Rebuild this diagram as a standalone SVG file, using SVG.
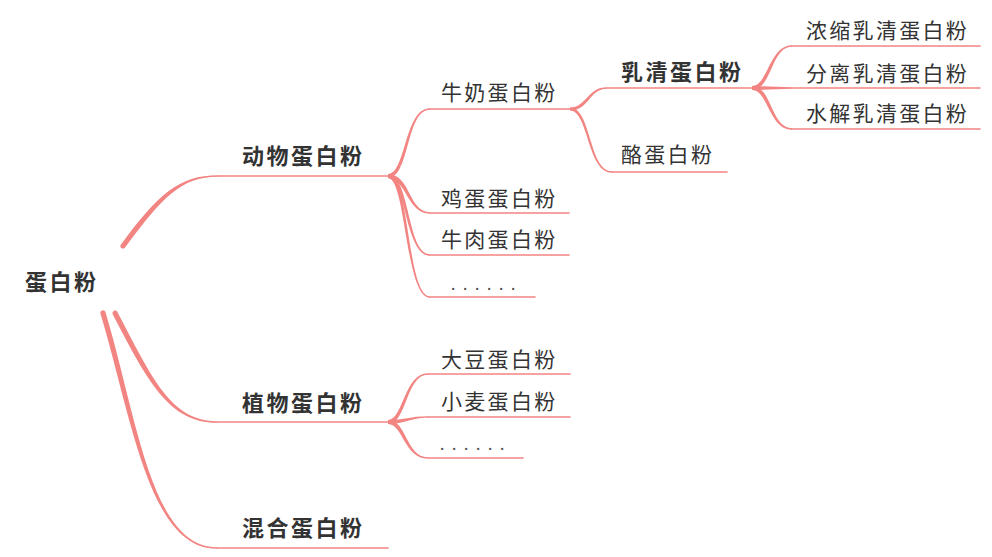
<svg xmlns="http://www.w3.org/2000/svg" width="992" height="557" viewBox="0 0 992 557">
<style>
.b{fill:#F28482;stroke:none}
.l{fill:none;stroke:#F28482;stroke-width:1.6;stroke-linecap:round}
.t{font-family:"Noto Sans CJK SC","Noto Sans",sans-serif;font-size:21px;fill:#333;letter-spacing:2.3px}
.tb{font-family:"Noto Sans CJK SC","Noto Sans",sans-serif;font-size:22px;font-weight:bold;fill:#333;letter-spacing:2.5px}
.d{font-family:"Noto Sans","DejaVu Sans",sans-serif;font-size:16px;fill:#444;letter-spacing:7.7px}
</style>
<rect width="992" height="557" fill="#fff"/>
<g id="connectors">
<!-- root branches -->
<path class="b" d="M121,244.4 C158,194.4 179,175.2 218,175.2 L218,176.8 C181,176.8 162,197.6 125.1,247.6 A2.6,2.6 0 0 1 121,244.4 Z"/>
<path class="l" d="M218,176 L388,176"/>
<path class="b" d="M117.3,311.8 C152.3,378.8 171,421.2 217,421.2 L217,422.8 C169,422.8 147.7,381.2 112.7,314.2 A2.6,2.6 0 0 1 117.3,311.8 Z"/>
<path class="l" d="M217,422 L388,422"/>
<path class="b" d="M105.5,312.25 C137.5,419.25 151,547.2 217,547.2 L217,548.8 C149,548.8 132.5,420.75 100.5,313.75 A2.6,2.6 0 0 1 105.5,312.25 Z"/>
<path class="l" d="M217,548 L388,548"/>
<!-- animal -->
<path class="b" d="M388,174 C406,174 404.3,108.25 430,108.25 L430,109.75 C405.7,109.75 410,178 388,178 Z"/>
<path class="l" d="M430,109 L570,109"/>
<path class="b" d="M388,174 C410,174 408.75,212.25 430,212.25 L430,213.75 C407.25,213.75 406,178 388,178 Z"/>
<path class="l" d="M430,213 L569,213"/>
<path class="b" d="M388,174 C410,174 406.75,254.25 430,254.25 L430,255.75 C405.25,255.75 406,178 388,178 Z"/>
<path class="l" d="M430,255 L569,255"/>
<path class="b" d="M388,174 C410,174 406.75,296.25 430,296.25 L430,297.75 C405.25,297.75 406,178 388,178 Z"/>
<path class="l" d="M430,297 L535,297"/>
<!-- milk -->
<path class="b" d="M570,107.5 C586.5,107.5 587.3,87.25 607,87.25 L607,88.75 C588.7,88.75 589.5,110.5 570,110.5 Z"/>
<path class="l" d="M607,88 L752,88"/>
<path class="b" d="M570,107.5 C591.5,107.5 588.7,171.25 612,171.25 L612,172.75 C587.3,172.75 588.5,110.5 570,110.5 Z"/>
<path class="l" d="M612,172 L727,172"/>
<!-- whey -->
<path class="b" d="M752,86 C768,86 769.3,45.25 792,45.25 L792,46.75 C770.7,46.75 772,90 752,90 Z"/>
<path class="l" d="M792,46 L980,46"/>
<path class="b" d="M752,86 L792,87.25 L792,88.75 L752,90 Z"/>
<path class="l" d="M792,88 L980,88"/>
<path class="b" d="M752,86 C772,86 770.7,128.25 792,128.25 L792,129.75 C769.3,129.75 768,90 752,90 Z"/>
<path class="l" d="M792,129 L980,129"/>
<!-- plant -->
<path class="b" d="M388,420 C403,420 404.3,373.25 428,373.25 L428,374.75 C405.7,374.75 407,424 388,424 Z"/>
<path class="l" d="M428,374 L570,374"/>
<path class="b" d="M388,420 C405,420 410,416.25 428,416.25 L428,417.75 C410,417.75 405,424 388,424 Z"/>
<path class="l" d="M428,417 L570,417"/>
<path class="b" d="M388,420 C407,420 405.75,457.25 428,457.25 L428,458.75 C404.25,458.75 403,424 388,424 Z"/>
<path class="l" d="M428,458 L523,458"/>
</g>
<g id="n-root"><text class="tb" x="25" y="290">蛋白粉</text></g>
<g id="n-animal"><text class="tb" x="242" y="164">动物蛋白粉</text></g>
<g id="n-plant"><text class="tb" x="242" y="410.5">植物蛋白粉</text></g>
<g id="n-mixed"><text class="tb" x="242" y="535.5">混合蛋白粉</text></g>
<g id="n-milk"><text class="t" x="441" y="100">牛奶蛋白粉</text></g>
<g id="n-egg"><text class="t" x="441" y="205.5">鸡蛋蛋白粉</text></g>
<g id="n-beef"><text class="t" x="441" y="246.5">牛肉蛋白粉</text></g>
<g id="n-animal-more"><text class="d" x="451" y="290">......</text></g>
<g id="n-whey"><text class="tb" x="621" y="80">乳清蛋白粉</text></g>
<g id="n-casein"><text class="t" x="621" y="162">酪蛋白粉</text></g>
<g id="n-wpc"><text class="t" x="806" y="37.5">浓缩乳清蛋白粉</text></g>
<g id="n-wpi"><text class="t" x="806" y="80.5">分离乳清蛋白粉</text></g>
<g id="n-wph"><text class="t" x="806" y="120.5">水解乳清蛋白粉</text></g>
<g id="n-soy"><text class="t" x="441" y="366.5">大豆蛋白粉</text></g>
<g id="n-wheat"><text class="t" x="441" y="408.5">小麦蛋白粉</text></g>
<g id="n-plant-more"><text class="d" x="440" y="450">......</text></g>
</svg>
